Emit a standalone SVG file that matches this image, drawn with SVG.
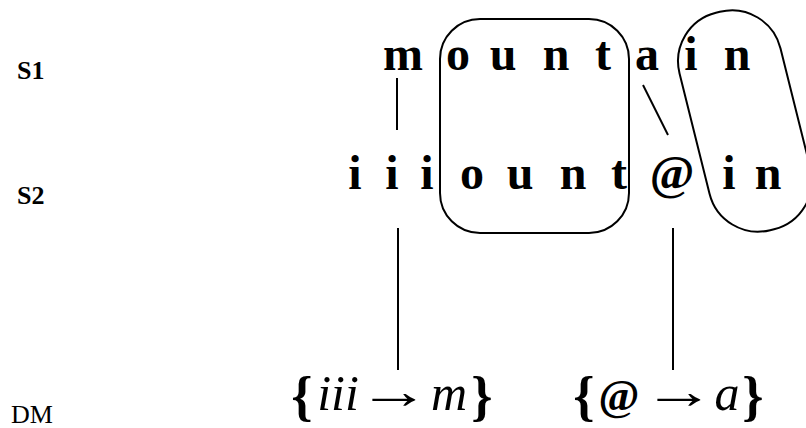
<svg xmlns="http://www.w3.org/2000/svg" width="806" height="428" viewBox="0 0 806 428">
<style>
.lab{font-family:"Liberation Serif","Times New Roman",serif;font-size:26px;fill:#000}
.b{font-weight:bold}
.let{font-family:"Liberation Serif","Times New Roman",serif;font-size:48px;font-weight:bold;fill:#000;text-anchor:middle}
.dm{font-family:"Liberation Serif","Times New Roman",serif;font-size:50px;fill:#000;text-anchor:middle}
.br{font-family:"Liberation Serif","Times New Roman",serif;font-size:54px;font-weight:bold;fill:#000;text-anchor:middle}
.arr{font-family:"Liberation Serif","Times New Roman",serif;font-size:50px;fill:#000;text-anchor:middle}
.it{font-style:italic}
.ln{stroke:#000;stroke-width:2;fill:none}
.box{stroke:#000;stroke-width:2;fill:none}
</style>
<rect width="806" height="428" fill="#fff"/>
<g id="labels">
<text class="lab b" x="17" y="79">S1</text>
<text class="lab b" x="17" y="204">S2</text>
<text class="lab" x="11" y="423">DM</text>
</g>
<g id="s1">
<text class="let" x="403" y="70">m</text>
<text class="let" x="458" y="70">o</text>
<text class="let" x="503" y="70">u</text>
<text class="let" x="556" y="70">n</text>
<text class="let" x="603" y="70">t</text>
<text class="let" x="647" y="70">a</text>
<text class="let" x="691" y="70">i</text>
<text class="let" x="737" y="70">n</text>
</g>
<g id="s2">
<text class="let" x="355" y="189">i</text>
<text class="let" x="392" y="189">i</text>
<text class="let" x="427" y="189">i</text>
<text class="let" x="472" y="189">o</text>
<text class="let" x="520" y="189">u</text>
<text class="let" x="573" y="189">n</text>
<text class="let" x="619" y="189">t</text>
<text class="let" x="672" y="189">@</text>
<text class="let" x="729" y="189">i</text>
<text class="let" x="768" y="189">n</text>
</g>
<g id="box-ount">
<rect class="box" x="440" y="19" width="189" height="214" rx="40"/>
</g>
<g id="box-in">
<rect class="box" x="-52" y="-112" width="104" height="224" rx="50" transform="translate(745 121) rotate(-14)"/>
</g>
<g id="connectors">
<line class="ln" x1="397" y1="78" x2="397" y2="130"/>
<line class="ln" x1="643" y1="85" x2="668" y2="135"/>
<line class="ln" x1="398" y1="228" x2="398" y2="370"/>
<line class="ln" x1="673" y1="228" x2="673" y2="370"/>
</g>
<g id="dm1">
<text class="br" x="302" y="414">{</text>
<text class="dm it" x="338" y="410">iii</text>
<text class="arr" transform="translate(394 408) scale(1.45 1)">→</text>
<text class="dm it" x="449" y="410">m</text>
<text class="br" x="482" y="414">}</text>
</g>
<g id="dm2">
<text class="br" x="584" y="414">{</text>
<text class="dm b" x="619" y="410" style="font-size:44px">@</text>
<text class="arr" transform="translate(679 408) scale(1.45 1)">→</text>
<text class="dm it" x="727" y="410">a</text>
<text class="br" x="753" y="414">}</text>
</g>
</svg>
